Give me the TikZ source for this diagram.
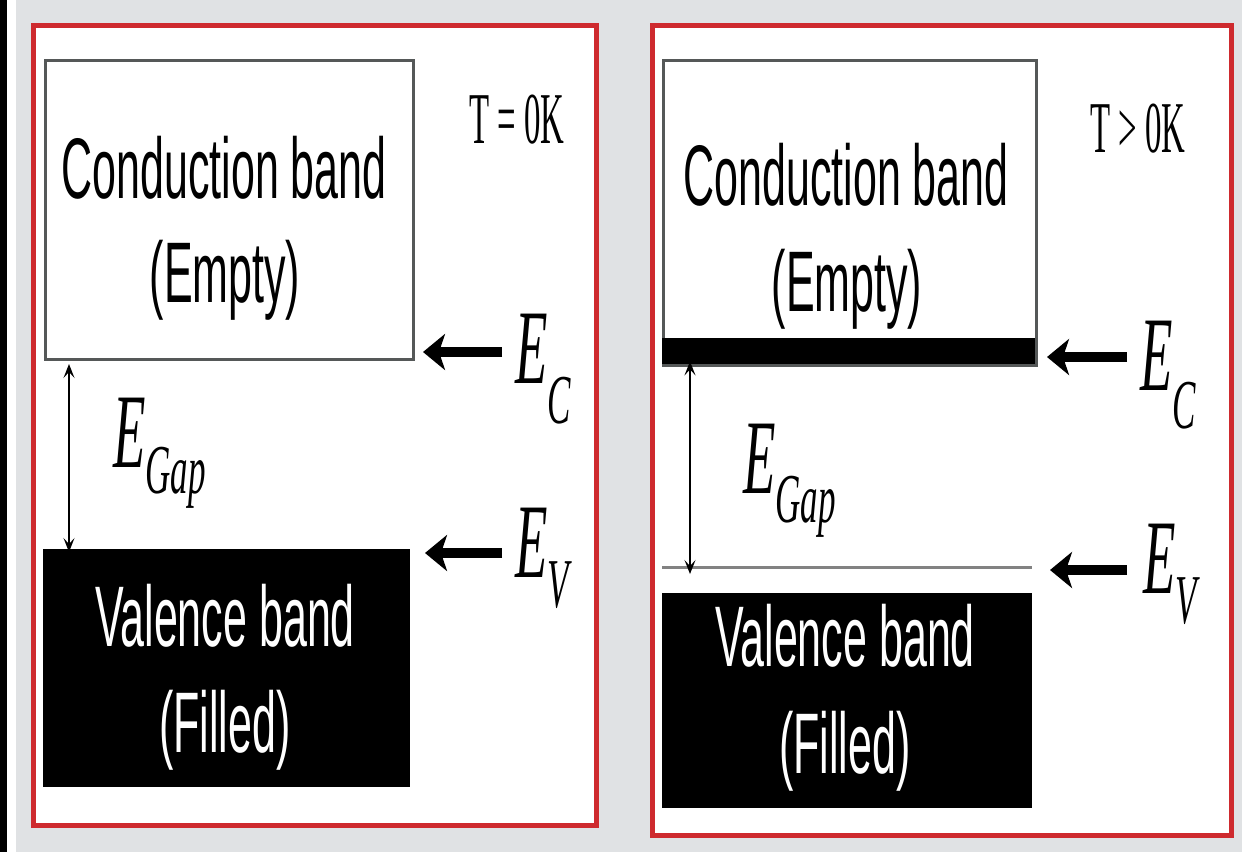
\documentclass[tikz,border=0pt]{standalone}
\usepackage{fontspec}
\newfontfamily\arialf{Liberation Sans}
\newfontfamily\timesf{Liberation Serif}
\usetikzlibrary{arrows.meta}
\definecolor{bggrey}{RGB}{224,226,228}
\definecolor{panelred}{RGB}{206,42,46}
\definecolor{boxgrey}{RGB}{85,88,88}
\definecolor{linegrey}{RGB}{130,130,130}
\newcommand\lowsub[2]{\raisebox{-#2pt}{\fontsize{70}{70}\selectfont #1}}
\tikzset{
  panel/.style={draw=panelred, line width=5pt, fill=white, inner sep=0, anchor=north west},
  cbox/.style={draw=boxgrey, line width=3pt, fill=white, inner sep=0, anchor=north west},
  fbox/.style={fill=black, inner sep=0, anchor=north west},
  bandtxt/.style={font=\arialf\fontsize{86}{86}\selectfont, inner sep=0, xscale=0.5, anchor=base},
  elab/.style={font=\timesf\itshape\fontsize{106}{106}\selectfont, inner sep=0, xscale=0.5, anchor=base west},
  tlab/.style={font=\timesf\fontsize{73}{73}\selectfont, inner sep=0, xscale=0.45, anchor=base},
  bigarrow/.style={line width=10pt, -{Stealth[length=22pt,width=36pt,inset=6pt]}},
  gaparrow/.style={line width=1.5pt, {Stealth[length=14pt,width=11pt,inset=6pt]}-{Stealth[length=14pt,width=11pt,inset=6pt]}},
}
\begin{document}
\begin{tikzpicture}[x=1pt,y=-1pt]
\useasboundingbox (0,0) rectangle (1242,852);
\fill[bggrey] (0,0) rectangle (1242,852);
\fill[black] (0,0) rectangle (7,852);
\fill[white] (7,0) rectangle (16,852);

% panels
\node[panel, minimum width=563pt, minimum height=800pt] (p1) at (30.5,22.5) {};
\node[panel, minimum width=579pt, minimum height=810pt] (p2) at (650,22.5) {};

% ---------- left panel (T = 0K)
\node[cbox, minimum width=368pt, minimum height=299pt] (cb1) at (44,59) {};
\node[fbox, minimum width=367pt, minimum height=238pt] (vb1) at (43,549) {};
\node[bandtxt] (ct1) at (224,198) {Conduction band};
\node[bandtxt] (ce1) at (225,302) {(Empty)};
\node[bandtxt, text=white] (vt1) at (225,646) {Valence band};
\node[bandtxt, text=white] (vf1) at (225,752) {(Filled)};
\node[tlab] (t1) at (517,143) {T = 0K};
\node[elab] (ec1) at (515,383) {E\lowsub{C}{40}};
\node[elab] (ev1) at (515,577) {E\lowsub{V}{30}};
\node[elab] (eg1) at (113,467) {E\lowsub{Gap}{26}};
\coordinate (ac1t) at (502,352); \coordinate (ac1h) at (423,352);
\coordinate (av1t) at (502,553); \coordinate (av1h) at (425,553);
\draw[bigarrow] (ac1t) -- (ac1h);
\draw[bigarrow] (av1t) -- (av1h);
\coordinate (g1) at (69,0);
\draw[gaparrow] (g1 |- cb1.south) ++(0,3) -- ([yshift=-3pt]g1 |- vb1.north);

% ---------- right panel (T > 0K)
\node[cbox, minimum width=373pt, minimum height=305pt] (cb2) at (662,59) {};
\node[fbox, minimum width=373pt, minimum height=26pt] (bar2) at (662,338) {};
\node[fbox, minimum width=370pt, minimum height=215pt] (vb2) at (662,593) {};
\coordinate (ev2a) at (662,567); \coordinate (ev2b) at (1032,567);
\draw[linegrey, line width=3pt] (ev2a) -- (ev2b);
\node[bandtxt] (ct2) at (846,205) {Conduction band};
\node[bandtxt] (ce2) at (847,311) {(Empty)};
\node[bandtxt, text=white] (vt2) at (845,666) {Valence band};
\node[bandtxt, text=white] (vf2) at (845,773) {(Filled)};
\node[tlab] (t2) at (1138,152) {T > 0K};
\node[elab] (ec2) at (1140,390) {E\lowsub{C}{38}};
\node[elab] (ev2) at (1143,593) {E\lowsub{V}{30}};
\node[elab] (eg2) at (743,493) {E\lowsub{Gap}{29}};
\coordinate (ac2t) at (1127,357); \coordinate (ac2h) at (1047,357);
\coordinate (av2t) at (1127,570); \coordinate (av2h) at (1050,570);
\draw[bigarrow] (ac2t) -- (ac2h);
\draw[bigarrow] (av2t) -- (av2h);
\coordinate (g2) at (690,0);
\draw[gaparrow] ([yshift=3pt]g2 |- bar2.south) -- ([yshift=-7pt]g2 |- ev2a);
\end{tikzpicture}
\end{document}
